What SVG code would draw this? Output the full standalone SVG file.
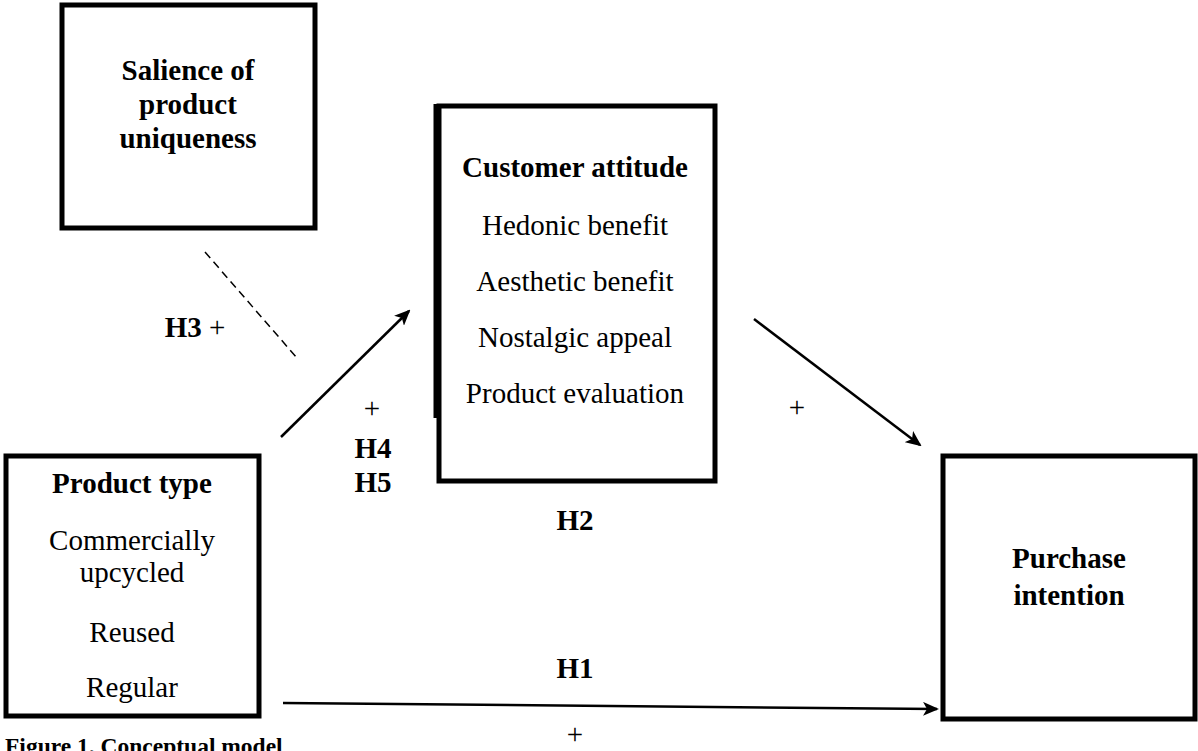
<svg xmlns="http://www.w3.org/2000/svg" width="1198" height="751" viewBox="0 0 1198 751">
<style>
.box{fill:#fff;stroke:#000;stroke-width:5}
.t{font-family:"Liberation Serif","Times New Roman",serif;font-size:29px;fill:#000;text-anchor:middle}
.b{font-weight:bold}
.ln{stroke:#000;stroke-width:2.5;fill:none}
.dash{stroke:#000;stroke-width:1.5;stroke-dasharray:8 5;fill:none}
</style>
<defs>
<marker id="ah" markerWidth="16" markerHeight="14" refX="14" refY="7" orient="auto" markerUnits="userSpaceOnUse">
<path d="M0,0 L16,7 L0,14 L4,7 Z" fill="#000"/>
</marker>
</defs>
<rect width="1198" height="751" fill="#fff"/>
<g id="salience">
<rect class="box" x="62" y="5" width="253" height="223"/>
<text class="t b" x="188" y="80">Salience of</text>
<text class="t b" x="188" y="114">product</text>
<text class="t b" x="188" y="148">uniqueness</text>
</g>
<g id="attitude">
<rect class="box" x="439" y="106" width="276" height="375"/>
<line x1="436" y1="104" x2="436" y2="418" stroke="#000" stroke-width="5"/>
<text class="t b" x="575" y="177">Customer attitude</text>
<text class="t" x="575" y="235">Hedonic benefit</text>
<text class="t" x="575" y="291">Aesthetic benefit</text>
<text class="t" x="575" y="347">Nostalgic appeal</text>
<text class="t" x="575" y="403">Product evaluation</text>
</g>
<g id="producttype">
<rect class="box" x="6" y="456" width="253" height="260"/>
<text class="t b" x="132" y="493">Product type</text>
<text class="t" x="132" y="550">Commercially</text>
<text class="t" x="132" y="582">upcycled</text>
<text class="t" x="132" y="642">Reused</text>
<text class="t" x="132" y="697">Regular</text>
</g>
<g id="purchase">
<rect class="box" x="943" y="456" width="252" height="263"/>
<text class="t b" x="1069" y="568">Purchase</text>
<text class="t b" x="1069" y="605">intention</text>
</g>
<g id="connectors">
<line class="dash" x1="205" y1="252" x2="297" y2="358"/>
<line class="ln" x1="281" y1="437" x2="409" y2="311" marker-end="url(#ah)"/>
<line class="ln" x1="754" y1="319" x2="920" y2="445" marker-end="url(#ah)"/>
<line class="ln" x1="283" y1="703" x2="937" y2="709" marker-end="url(#ah)"/>
</g>
<g id="labels">
<text class="t" x="195" y="337"><tspan class="b">H3</tspan> +</text>
<text class="t" x="372" y="418">+</text>
<text class="t b" x="373" y="458">H4</text>
<text class="t b" x="373" y="492">H5</text>
<text class="t" x="797" y="417">+</text>
<text class="t b" x="575" y="530">H2</text>
<text class="t b" x="575" y="678">H1</text>
<text class="t" x="575" y="744">+</text>
<text class="t b" x="5" y="754" style="text-anchor:start;font-size:23.5px">Figure 1. Conceptual model</text>
</g>
</svg>
